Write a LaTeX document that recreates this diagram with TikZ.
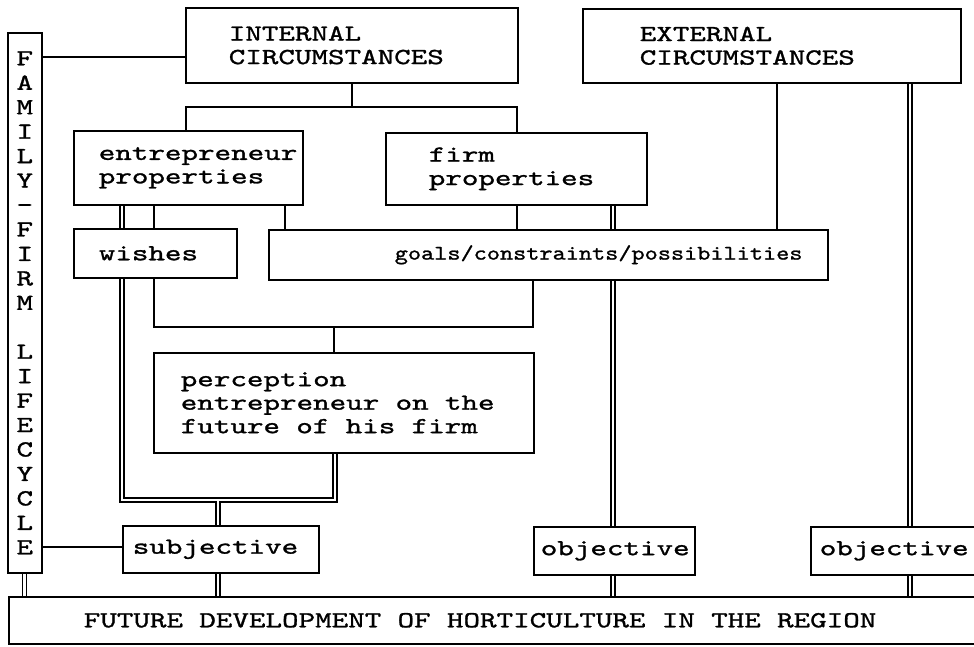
\documentclass[tikz,border=0pt]{standalone}
\usepackage{fontspec}
\usepackage{graphicx}
\usetikzlibrary{calc}
\newfontfamily\dmonoraw[FakeStretch=1.37,FakeBold=1.2]{lmmono10-regular.otf}
\newcommand\dmono[1]{\dmonoraw\fontsize{23}{#1}\selectfont\fontdimen2\font=16.5pt\fontdimen3\font=0pt\fontdimen4\font=0pt\relax}
\pgfdeclarelayer{bg}
\pgfsetlayers{bg,main}
\begin{document}
\begin{tikzpicture}[x=1pt,y=-1pt,
  box/.style={draw, line width=1.6pt, fill=white, inner ysep=0pt, anchor=north west, align=flush left,
    font=\dmono{23.5}, execute at begin node={\spaceskip=16.3pt\xspaceskip=16.3pt\relax}},
  conn/.style={line width=1.4pt},
  dconn/.style={line width=1.3pt, double=white, double distance=2.6pt}
]
\useasboundingbox (0,0) rectangle (974,647);

% boxes
\node[box, inner xsep=0pt, minimum width=34pt, minimum height=540pt, align=center,
  font=\dmono{24.45}] (fam) at (7,32)
  {F\\A\\M\\I\\L\\Y\\-\\F\\I\\R\\M\\\\L\\I\\F\\E\\C\\Y\\C\\L\\E};
\node[box, minimum height=75pt, text width=246pt, inner xsep=43pt] (int) at (185,7) {INTERNAL\\CIRCUMSTANCES};
\node[box, minimum height=74pt, text width=264pt, inner xsep=57pt] (ext) at (582,8) {EXTERNAL\\CIRCUMSTANCES};
\node[box, minimum height=74pt, text width=179pt, inner xsep=25pt] (ent) at (73,130) {entrepreneur\\properties};
\node[box, minimum height=72pt, text width=175pt, inner xsep=43pt] (firm) at (385,132) {firm\\properties};
\node[box, minimum height=49pt, text width=113pt, inner xsep=25pt] (wish) at (73,228) {wishes};
\node[box, minimum height=50pt, text width=307pt, inner xsep=126pt] (goals) at (268,229)
  {\scalebox{0.795}[0.9]{goals/constraints/possibilities}};
\node[box, minimum height=100pt, text width=326pt, inner xsep=27pt] (perc) at (153,352)
  {perception\\entrepreneur on the\\future of his firm};
\node[box, minimum height=47pt, text width=176pt, inner xsep=10pt] (subj) at (122,525) {subjective};
\node[box, minimum height=48pt, text width=147pt, inner xsep=7pt] (obj1) at (533,526) {objective};
\node[box, minimum height=48pt, text width=180pt, inner xsep=9pt] (obj2) at (810,526) {objective};
\node[box, minimum height=47pt, text width=820pt, inner xsep=75pt] (fut) at (8,596)
  {FUTURE DEVELOPMENT OF HORTICULTURE IN THE REGION};
\coordinate (stub) at (974,548);

\begin{pgfonlayer}{bg}
% single connectors
\draw[conn] (fam.east |- 0,57) -- (int.west |- 0,57);
\draw[conn] (int.south) -- (int.south |- 0,107);
\draw[conn] (ent.north -| 186,0) -- (186,107) -- (517,107) -- (firm.north -| 517,0);
\draw[conn] (ent.south -| 154,0) -- (wish.north -| 154,0);
\draw[conn] (ent.south -| 285,0) -- (goals.north -| 285,0);
\draw[conn] (firm.south -| 517,0) -- (goals.north -| 517,0);
\draw[conn] (ext.south -| 777,0) -- (goals.north -| 777,0);
\draw[conn] (wish.south -| 154,0) -- (154,327) -- (533,327) -- (goals.south -| 533,0);
\draw[conn] (334,327) -- (perc.north -| 334,0);
\draw[conn] (fam.east |- 0,547) -- (subj.west |- 0,547);
\draw[conn] (967,548) -- (stub);
% double connectors
\draw[dconn] (ent.south -| 122,0) -- (122,500) -- (335,500) -- (perc.south -| 335,0);
\draw[dconn] (218,501.3) -- (subj.north -| 218,0);
\draw[dconn] (subj.south -| 218,0) -- (fut.north -| 218,0);
\draw[dconn] (firm.south -| 613,0) -- (obj1.north -| 613,0);
\draw[dconn] (obj1.south -| 613,0) -- (fut.north -| 613,0);
\draw[dconn] (ext.south -| 910,0) -- (obj2.north -| 910,0);
\draw[dconn] (obj2.south -| 910,0) -- (fut.north -| 910,0);
\draw[dconn] (fam.south -| 24.5,0) -- (fut.north -| 24.5,0);
\end{pgfonlayer}
\end{tikzpicture}
\end{document}
